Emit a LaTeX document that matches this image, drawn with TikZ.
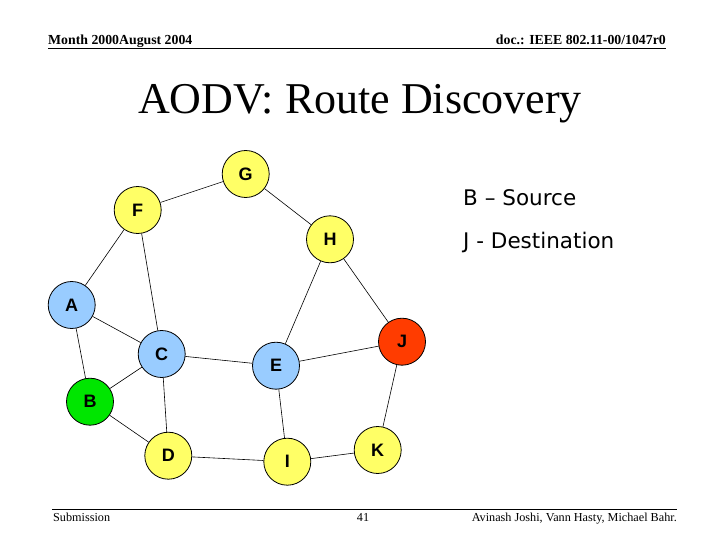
\documentclass[tikz,border=0pt]{standalone}
\usepackage{fontspec}
\setmainfont{Liberation Serif}
\newfontfamily\labfont{Liberation Sans}
\newfontfamily\legfont{DejaVu Sans}
\definecolor{ndyellow}{RGB}{255,255,102}
\definecolor{ndblue}{RGB}{153,204,255}
\definecolor{ndgreen}{RGB}{0,230,0}
\definecolor{ndred}{RGB}{255,60,0}
\tikzset{
  nd/.style={circle, draw=black, line width=0.8pt, minimum size=47pt, inner sep=0pt, font=\labfont\bfseries\fontsize{18}{18}\selectfont},
  edge/.style={draw=black, line width=0.6pt},
  legend/.style={anchor=west, inner sep=0pt, font=\legfont\fontsize{21.5}{22}\selectfont},
  hdr/.style={inner sep=0pt, font=\bfseries\fontsize{13.8}{14}\selectfont},
  ftr/.style={inner sep=0pt, font=\fontsize{12.2}{13}\selectfont},
}
\begin{document}
\begin{tikzpicture}[x=1pt,y=-1pt]
\useasboundingbox[fill=white] (0,0) rectangle (720,540);
% header / footer
\node[hdr, anchor=base west] (hl) at (48,45) {Month 2000August 2004};
\node[hdr, anchor=base east] (hr) at (666,45) {doc.: IEEE 802.11-00/1047r0};
\coordinate (hl0) at (48,48.5);
\coordinate (hl1) at (666,48.5);
\draw[line width=1.6pt] (hl0) -- (hl1);
\coordinate (fl0) at (52,509.5);
\coordinate (fl1) at (677,509.5);
\draw[line width=1.6pt] (fl0) -- (fl1);
\node[ftr, anchor=base west] (fs) at (53,521) {Submission};
\node[ftr, anchor=base] (fn) at (363,521) {41};
\node[ftr, anchor=base east] (fa) at (677,521) {Avinash Joshi, Vann Hasty, Michael Bahr.};
% title
\node[inner sep=0pt, anchor=base, font=\fontsize{44}{44}\selectfont] (title) at (360,114) {AODV: Route Discovery};
% legend
\node[legend] (l1) at (463,198) {B – Source};
\node[legend] (l2) at (463,242) {J - Destination};
% nodes
\node[nd, fill=ndyellow] (G) at (245.7,174) {G};
\node[nd, fill=ndyellow] (F) at (137.7,210) {F};
\node[nd, fill=ndyellow] (H) at (330,239.3) {H};
\node[nd, fill=ndblue] (A) at (71.7,305) {A};
\node[nd, fill=ndblue] (C) at (161.7,354) {C};
\node[nd, fill=ndblue] (E) at (276,365.7) {E};
\node[nd, fill=ndred] (J) at (402,341.7) {J};
\node[nd, fill=ndgreen] (B) at (90,401.7) {B};
\node[nd, fill=ndyellow] (D) at (168.3,455.7) {D};
\node[nd, fill=ndyellow] (I) at (287.3,461.7) {I};
\node[nd, fill=ndyellow] (K) at (377.7,450) {K};
% edges
\foreach \a/\b in {G/F,G/H,F/A,F/C,A/C,A/B,B/C,B/D,C/D,C/E,E/H,E/J,H/J,E/I,D/I,I/K,K/J}
  \draw[edge] (\a) -- (\b);
\end{tikzpicture}
\end{document}
